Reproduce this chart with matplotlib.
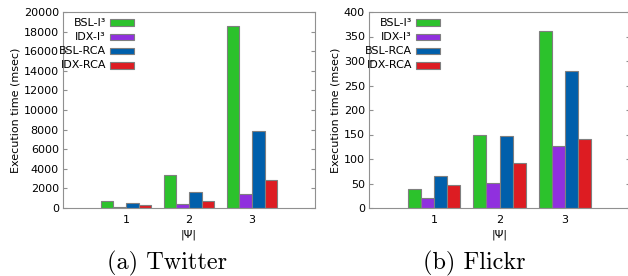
import numpy as np
import matplotlib
matplotlib.use('Agg')
import matplotlib.pyplot as plt
from matplotlib.patches import Rectangle

plt.rcParams['font.family'] = ['DejaVu Sans']
plt.rcParams['font.size'] = 8

groups = ['1', '2', '3']
methods = ['BSL-I\u00b3', 'IDX-I\u00b3', 'BSL-RCA', 'IDX-RCA']
colors = ['#2cc22c', '#9030de', '#005fab', '#dd1c22']

twitter_bsl_i3 = [680, 3400, 18600]
twitter_idx_i3 = [150, 420, 1450]
twitter_bsl_rca = [550, 1620, 7900]
twitter_idx_rca = [300, 700, 2900]

flickr_bsl_i3 = [38, 148, 361]
flickr_idx_i3 = [21, 52, 126]
flickr_bsl_rca = [66, 147, 279]
flickr_idx_rca = [46, 91, 141]

twitter = [twitter_bsl_i3, twitter_idx_i3, twitter_bsl_rca, twitter_idx_rca]
flickr = [flickr_bsl_i3, flickr_idx_i3, flickr_bsl_rca, flickr_idx_rca]


def draw_panel(ax, series, ymax, ystep):
    x = np.arange(1, len(groups) + 1)
    width = 0.2
    for i, vals in enumerate(series):
        offset = (i - 1.5) * width
        ax.bar(x + offset, vals, width=width, color=colors[i],
               edgecolor='#7f7f7f', linewidth=0.8, zorder=2)
    ax.set_xlim(0, 4)
    ax.set_ylim(0, ymax)
    ax.set_xticks(x)
    ax.set_xticklabels(groups)
    ax.set_yticks(np.arange(0, ymax + 1, ystep))
    ax.tick_params(axis='x', length=0, pad=5)
    ax.tick_params(axis='y', direction='in', length=3, color='#909090',
                   right=True, pad=3)
    for sp in ax.spines.values():
        sp.set_color('#909090')
        sp.set_linewidth(0.8)
    ax.set_ylabel('Execution time (msec)', labelpad=2)
    ax.set_xlabel('|\u03a8|', labelpad=3)

    # gnuplot-style key: right-aligned labels followed by a swatch
    h = ax.bbox.height
    w = ax.bbox.width
    for i, name in enumerate(methods):
        yc = 1 - (10.5 + 14.3 * i) / h
        ax.text(43 / w, yc, name, transform=ax.transAxes, ha='right',
                va='center', zorder=5)
        ax.add_patch(Rectangle((47 / w, yc - 3.2 / h), 23.5 / w, 6.4 / h,
                               transform=ax.transAxes, facecolor=colors[i],
                               edgecolor='#7f7f7f', linewidth=0.8,
                               clip_on=False, zorder=5))


fig = plt.figure(figsize=(6.28, 2.76), dpi=100)
ax1 = fig.add_axes([63 / 628, 68 / 276, 252 / 628, 196 / 276])
ax2 = fig.add_axes([369 / 628, 68 / 276, 261 / 628, 196 / 276])

draw_panel(ax1, twitter, 20000, 2000)
draw_panel(ax2, flickr, 400, 50)

fig.text(167 / 628, 0.045, '(a) Twitter', family='cmr10', fontsize=17.5,
         ha='center', va='center')
fig.text(474 / 628, 0.045, '(b) Flickr', family='cmr10', fontsize=17.5,
         ha='center', va='center')

fig.savefig('out.png', dpi=100)
